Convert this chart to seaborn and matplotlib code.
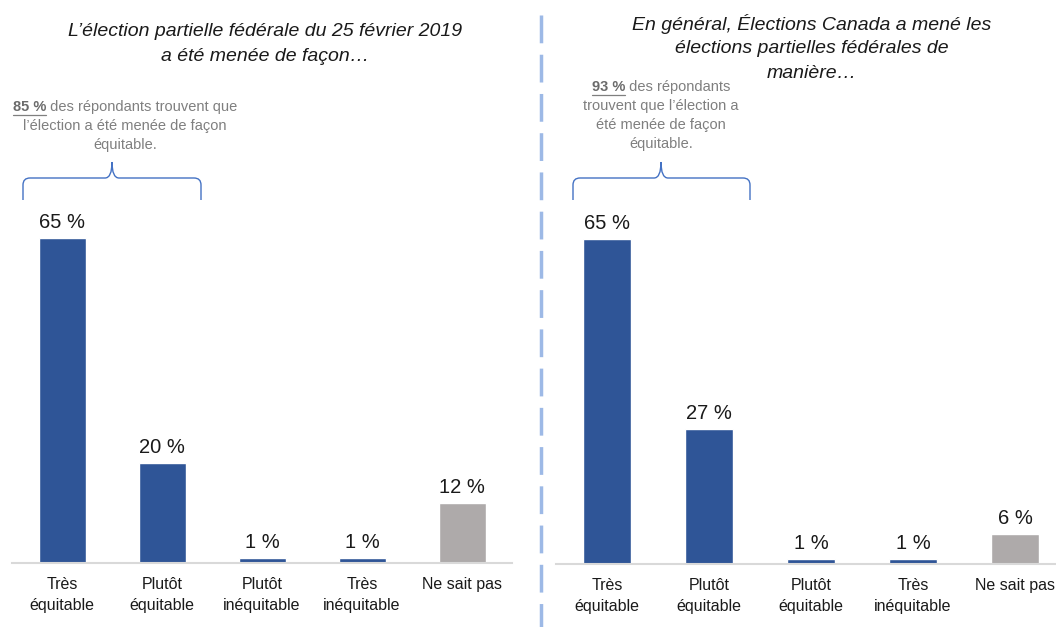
import numpy as np
import pandas as pd
import seaborn as sns
import matplotlib.pyplot as plt
from matplotlib.path import Path
from matplotlib.patches import PathPatch
from matplotlib.lines import Line2D

# data
left_labels = ['Très\néquitable', 'Plutôt\néquitable', 'Plutôt\ninéquitable', 'Très\ninéquitable', 'Ne sait pas']
left_values = [65, 20, 1, 1, 12]
right_labels = ['Très\néquitable', 'Plutôt\néquitable', 'Plutôt\néquitable', 'Très\ninéquitable', 'Ne sait pas']
right_values = [65, 27, 1, 1, 6]
left_title = ["L’élection partielle fédérale du 25 février 2019", "a été menée de façon…"]
right_title = ["En général, Élections Canada a mené les", "élections partielles fédérales de", "manière…"]
left_pct = '85 %'
left_note = [' des répondants trouvent que', 'l’élection a été menée de façon', 'équitable.']
right_pct = '93 %'
right_note = [' des répondants', 'trouvent que l’élection a', 'été menée de façon', 'équitable.']

BLUE = '#2F5597'
GRAY = '#AEAAAA'
colors = [BLUE, BLUE, BLUE, BLUE, GRAY]

sns.set_theme(style='white')
plt.rcParams['font.family'] = ['Liberation Sans', 'DejaVu Sans']

W, H = 1056, 627
fig = plt.figure(figsize=(W / 100, H / 100), dpi=100)


def px(x, y):
    # image pixel (top-left origin) -> figure fraction
    return x / W, 1 - y / H


def panel(left, width, base, labels, values):
    ax = fig.add_axes([left / W, (H - base) / H, width / W, 400 / H])
    df = pd.DataFrame({'pos': np.arange(len(values)), 'val': values})
    sns.barplot(data=df, x='pos', y='val', hue='pos', palette=colors,
                dodge=False, legend=False, width=0.47, saturation=1, ax=ax)
    ax.set_ylim(0, 80)
    ax.set_xlim(-0.5, len(values) - 0.5)
    for c in ax.containers:
        ax.bar_label(c, labels=[f'{v:.0f} %' for v in c.datavalues],
                     padding=4, fontsize=14.5, color='#1a1a1a')
    ax.set_xticks(range(len(labels)))
    ax.set_xticklabels(labels, fontsize=11.5, color='#1a1a1a', linespacing=1.55)
    ax.tick_params(axis='x', length=0, pad=10)
    ax.set_yticks([])
    ax.set_xlabel('')
    ax.set_ylabel('')
    for s in ['top', 'left', 'right']:
        ax.spines[s].set_visible(False)
    ax.spines['bottom'].set_color('#D9D9D9')
    ax.spines['bottom'].set_linewidth(1.5)
    return ax


ax_1 = panel(12, 500, 563, left_labels, left_values)
ax_2 = panel(556, 510, 564, right_labels, right_values)


# titles, one text per line
def title(xc, ytop, lines, step=24.5):
    for i, ln in enumerate(lines):
        fig.text(*px(xc, ytop + step * i), ln, ha='center', va='center', fontsize=14,
                 style='italic', color='#1a1a1a')


title(265, 32, left_title)
title(812, 24, right_title)

# separator
fig.add_artist(Line2D([541 / W, 541 / W], [1 - 15 / H, 0], color='#9DB9E6',
                      lw=2.5, linestyle=(0, (8, 3.3))))

renderer = fig.canvas.get_renderer()


def note(xc, ytop, pct, lines, step=19):
    # first line: underlined percent + rest, centered
    y0 = ytop
    t1 = fig.text(0, 0, pct, fontsize=10.5, fontweight='bold', color='#6b6b6b', va='center')
    t2 = fig.text(0, 0, lines[0], fontsize=10.5, color='#7F7F7F', va='center')
    w1 = t1.get_window_extent(renderer).width
    w2 = t2.get_window_extent(renderer).width
    x0 = xc - (w1 + w2) / 2
    t1.set_position(px(x0, y0))
    t2.set_position(px(x0 + w1, y0))
    fig.add_artist(Line2D([x0 / W, (x0 + w1) / W], [1 - (y0 + 8) / H] * 2,
                          color='#7F7F7F', lw=0.9))
    for i, ln in enumerate(lines[1:]):
        fig.text(*px(xc, y0 + step * (i + 1)), ln, ha='center', va='center',
                 fontsize=10.5, color='#7F7F7F')


def brace(xl, xr, xm, yb=200, yh=178, yt=162, r=7):
    pts = [(xl, yb), (xl, yh + r), (xl, yh), (xl + r, yh), (xm - r, yh), (xm, yh), (xm, yt),
           (xm, yh), (xm + r, yh), (xr - r, yh), (xr, yh), (xr, yh + r), (xr, yb)]
    codes = [Path.MOVETO, Path.LINETO, Path.CURVE3, Path.CURVE3, Path.LINETO, Path.CURVE3, Path.CURVE3,
             Path.CURVE3, Path.CURVE3, Path.LINETO, Path.CURVE3, Path.CURVE3, Path.LINETO]
    verts = [px(x, y) for x, y in pts]
    fig.add_artist(PathPatch(Path(verts, codes), facecolor='none', edgecolor='#4472C4',
                             lw=1, transform=fig.transFigure))


note(125, 107, left_pct, left_note)
note(661, 87, right_pct, right_note)
brace(23, 201, 112)
brace(573, 750, 661)

fig.savefig('out.png', dpi=100)
